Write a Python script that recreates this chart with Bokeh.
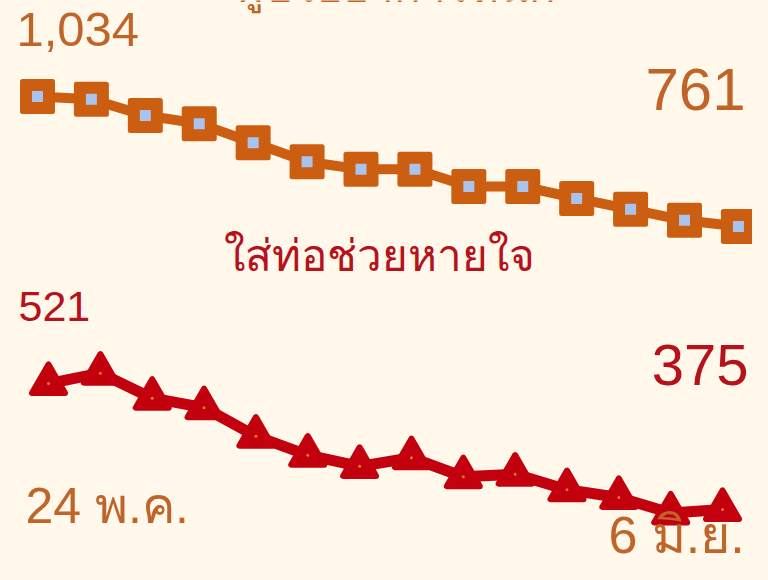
from bokeh.plotting import figure
from bokeh.models import Range1d, Label
from bokeh.embed import file_html
from bokeh.resources import INLINE

# ---- data ----
days = list(range(14))  # 24 May .. 6 Jun
severe = [1034, 1028, 994, 977, 937, 897, 881, 881, 845, 845, 820, 797, 774, 761]
intubated = [521, 533, 504, 493, 460, 438, 425, 435, 413, 416, 398, 389, 371, 375]
title_severe = "ผู้ป่วยอาการหนัก"
title_intubated = "ใส่ท่อช่วยหายใจ"
date_start = "24 พ.ค."
date_end = "6 มิ.ย."

BG = "#FFF8EB"
ORANGE = "#CB5E10"
ORANGE_TXT = "#C0652A"
RED = "#C2000E"
RED_TXT = "#B5121B"
BLUE = "#A9C3EE"

W, H = 752, 564
p = figure(width=W, height=H, output_backend="svg", toolbar_location=None,
           x_range=Range1d(-0.686, 13.261), y_range=Range1d(51.2, 1235.6),
           min_border=0, x_axis_location=None, y_axis_location=None,
           background_fill_color=BG, border_fill_color=BG, outline_line_color=None)
p.grid.visible = False
p.extra_x_ranges = {"xr": Range1d(-0.926, 13.578)}
p.extra_y_ranges = {"yr": Range1d(311.3, 964.8)}

# orange series
p.line(days, severe, line_color=ORANGE, line_width=10)
p.scatter(days, severe, marker="square", size=30, fill_color=ORANGE,
          line_color=ORANGE, line_width=5, line_join="round")
p.scatter(days, severe, marker="square", size=11, fill_color=BLUE, line_color=None)

# red series
p.line(days, intubated, line_color=RED, line_width=11,
       x_range_name="xr", y_range_name="yr")
p.scatter(days, intubated, marker="triangle", size=33, fill_color=RED,
          line_color=RED, line_width=6, line_join="round",
          x_range_name="xr", y_range_name="yr")
p.scatter(days, intubated, marker="circle", size=3, fill_color="#E8782A", line_color=None,
          x_range_name="xr", y_range_name="yr")

def lab(text, x, baseline, size, color, align="left", font="Liberation Sans"):
    y = H - baseline + 0.39 * size
    p.add_layout(Label(x=x, y=y, x_units="screen", y_units="screen", text=text,
                       text_font=font, text_font_size=f"{size}px", text_color=color,
                       text_align=align, text_baseline="alphabetic"))

lab(title_severe, 237, 3, 44, ORANGE_TXT)
lab(f"{severe[0]:,}", 16, 48, 49, ORANGE_TXT)
lab(f"{severe[-1]:,}", 745, 112, 60, ORANGE_TXT, align="right")
lab(title_intubated, 223, 272, 44, RED_TXT)
lab(f"{intubated[0]:,}", 18, 323, 43, RED_TXT)
lab(f"{intubated[-1]:,}", 748, 387, 58, RED_TXT, align="right")
lab(date_start, 25, 525, 50, ORANGE_TXT)
lab(date_end, 608, 555, 52, ORANGE_TXT)

html = file_html(p, INLINE)
html = html.replace("<body>", '<body style="background-color:#FFF8EB">')
open("out.html", "w").write(html)
